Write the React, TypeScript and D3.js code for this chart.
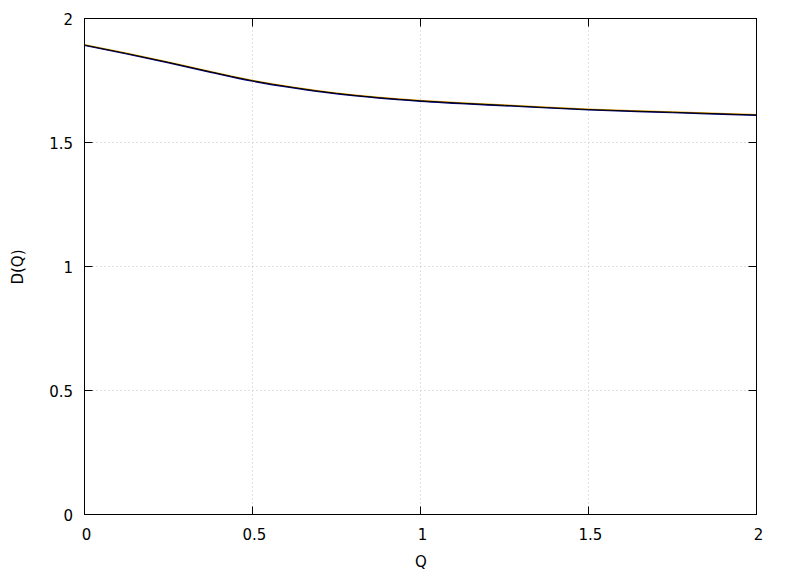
import React from "react";
import * as d3 from "d3";

const qValues = [0, 0.125, 0.25, 0.375, 0.5, 0.625, 0.75, 0.875, 1, 1.25, 1.5, 1.75, 2];
const seriesBlack = [1.893, 1.859, 1.823, 1.785, 1.749, 1.721, 1.698, 1.681, 1.668, 1.650, 1.633, 1.622, 1.611];
const seriesNavy = [1.891, 1.857, 1.821, 1.783, 1.747, 1.719, 1.696, 1.679, 1.666, 1.648, 1.631, 1.620, 1.609];
const seriesOrange = [1.895, 1.861, 1.825, 1.787, 1.751, 1.723, 1.700, 1.683, 1.670, 1.652, 1.635, 1.624, 1.613];
const xTicks = [0, 0.5, 1, 1.5, 2];
const yTicks = [0, 0.5, 1, 1.5, 2];

const W = 788;
const H = 576;
const left = 84.5;
const right = 756.5;
const top = 18.5;
const bottom = 514.5;
const font = "'DejaVu Sans', sans-serif";

export default function App() {
  const x = d3.scaleLinear().domain([0, 2]).range([left, right]);
  const y = d3.scaleLinear().domain([0, 2]).range([bottom, top]);
  const line = (vals: number[]) =>
    d3
      .line<number>()
      .x((_, i) => x(qValues[i]))
      .y((v) => y(v))
      .curve(d3.curveMonotoneX)(vals) || "";
  const tickLen = 8;
  return (
    <svg
      width={W}
      height={H}
      style={{ position: "absolute", left: 0, top: 0, background: "#fff" }}
    >
      {/* grid */}
      {xTicks.slice(1, -1).map((t) => (
        <line key={"gx" + t} x1={x(t)} x2={x(t)} y1={top} y2={bottom} stroke="#c0c0c0" strokeWidth={1} strokeDasharray="1,3" />
      ))}
      {yTicks.slice(1, -1).map((t) => (
        <line key={"gy" + t} x1={left} x2={right} y1={y(t)} y2={y(t)} stroke="#c0c0c0" strokeWidth={1} strokeDasharray="1,3" />
      ))}
      {/* ticks */}
      {xTicks.map((t) => (
        <g key={"tx" + t}>
          <line x1={x(t)} x2={x(t)} y1={bottom} y2={bottom - tickLen} stroke="#000" />
          <line x1={x(t)} x2={x(t)} y1={top} y2={top + tickLen} stroke="#000" />
          <text x={x(t) + 2} y={540} textAnchor="middle" fontFamily={font} fontSize={15}>
            {String(t)}
          </text>
        </g>
      ))}
      {yTicks.map((t) => (
        <g key={"ty" + t}>
          <line x1={left} x2={left + tickLen} y1={y(t)} y2={y(t)} stroke="#000" />
          <line x1={right} x2={right - tickLen} y1={y(t)} y2={y(t)} stroke="#000" />
          <text x={73} y={y(t) + 6} textAnchor="end" fontFamily={font} fontSize={15}>
            {String(t)}
          </text>
        </g>
      ))}
      {/* series */}
      <path d={line(seriesOrange)} fill="none" stroke="#e69f00" strokeWidth={1} />
      <path d={line(seriesNavy)} fill="none" stroke="#000080" strokeWidth={1.2} />
      <path d={line(seriesBlack)} fill="none" stroke="#000" strokeWidth={1} />
      {/* border */}
      <rect x={left} y={top} width={right - left} height={bottom - top} fill="none" stroke="#000" strokeWidth={1} />
      {/* labels */}
      <text x={421} y={567} textAnchor="middle" fontFamily={font} fontSize={15}>
        Q
      </text>
      <text
        transform={`translate(23,267) rotate(-90)`}
        textAnchor="middle"
        fontFamily={font}
        fontSize={15}
      >
        D(Q)
      </text>
    </svg>
  );
}
